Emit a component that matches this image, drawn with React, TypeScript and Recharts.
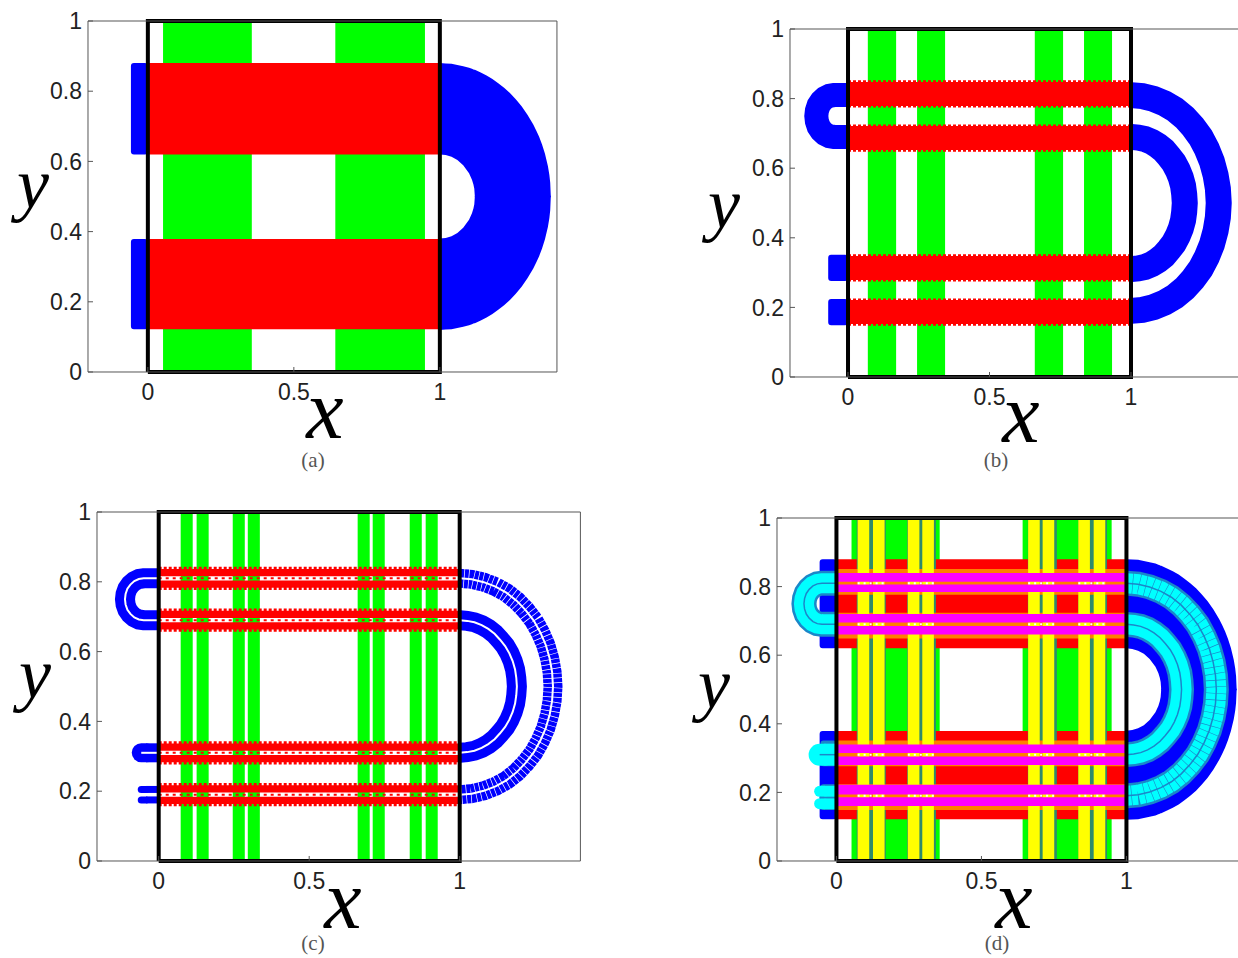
import { Fragment } from 'react'
import { ComposedChart, XAxis, YAxis, ReferenceArea, Line, Area } from 'recharts'

const xTicks = [0, 0.5, 1]
const yTicks = [0, 0.2, 0.4, 0.6, 0.8, 1]

// frame of the unit square
const squareX = [0, 1, 1, 0, 0]
const squareY = [0, 0, 1, 1, 0]
const spanX = [0, 1]

// vertical strips, [from x, to x]
const greenWide = [[0.052, 0.356], [0.642, 0.949]]
const greenMid = [[0.07, 0.17], [0.244, 0.343], [0.66, 0.76], [0.834, 0.933]]
const greenThin = [
  [0.073, 0.113], [0.126, 0.166], [0.246, 0.286], [0.296, 0.336],
  [0.661, 0.701], [0.711, 0.751], [0.834, 0.874], [0.887, 0.927]
]
const yellowPairs = [[0.073, 0.166], [0.246, 0.336], [0.661, 0.751], [0.834, 0.927]]

// horizontal strips, [from y, to y]
const redWide = [[0.122, 0.379], [0.62, 0.88]]
const redMid = [[0.152, 0.221], [0.279, 0.348], [0.652, 0.721], [0.779, 0.848]]
const orangeMid = [[0.149, 0.224], [0.276, 0.351], [0.649, 0.724], [0.776, 0.851]]
const redThin = [
  [0.163, 0.184], [0.196, 0.217], [0.283, 0.304], [0.316, 0.337],
  [0.663, 0.684], [0.696, 0.717], [0.783, 0.804], [0.816, 0.837]
]
const magentaThin = [
  [0.16, 0.186], [0.194, 0.222], [0.28, 0.305], [0.315, 0.34],
  [0.66, 0.685], [0.695, 0.72], [0.784, 0.806], [0.814, 0.84]
]

// saw-tooth rows along the band edges and centres
const edgesMid = [0.151, 0.222, 0.278, 0.349, 0.651, 0.722, 0.778, 0.849]
const edgesThin = [0.161, 0.219, 0.281, 0.339, 0.661, 0.719, 0.781, 0.839]
const centres = [0.19, 0.31, 0.69, 0.81]

// stubs left of the square, [from x, from y, to y]
const stubsA = [[-0.058, 0.122, 0.379], [-0.058, 0.62, 0.88]]
const stubsB = [[-0.07, 0.149, 0.224], [-0.07, 0.276, 0.351]]
const stubsDSteel = [[-0.055, 0.149, 0.224], [-0.055, 0.276, 0.351]]

// thick half ring right of the square (a) and (d)
const ringX = [1, 1.02, 1.04, 1.06, 1.08, 1.1, 1.11, 1.115, 1.118, 1.12, 1.14, 1.16, 1.18, 1.2, 1.22, 1.24, 1.26, 1.28, 1.3, 1.32, 1.33, 1.34, 1.35, 1.36, 1.37, 1.375, 1.378, 1.38]
const ringUpperOut = [0.88, 0.879, 0.878, 0.875, 0.871, 0.867, 0.864, 0.862, 0.861, 0.861, 0.853, 0.845, 0.835, 0.823, 0.81, 0.795, 0.777, 0.757, 0.733, 0.705, 0.688, 0.67, 0.648, 0.622, 0.587, 0.562, 0.539, 0.5]
const ringUpperIn = [0.62, 0.618, 0.613, 0.604, 0.589, 0.566, 0.548, 0.534, 0.522, 0.498, 0.498, 0.498, 0.498, 0.498, 0.498, 0.498, 0.498, 0.498, 0.498, 0.498, 0.498, 0.498, 0.498, 0.498, 0.498, 0.498, 0.498, 0.498]
const ringLowerOut = [0.12, 0.121, 0.122, 0.125, 0.129, 0.133, 0.136, 0.138, 0.139, 0.139, 0.147, 0.155, 0.165, 0.177, 0.19, 0.205, 0.223, 0.243, 0.267, 0.295, 0.312, 0.33, 0.352, 0.378, 0.413, 0.438, 0.461, 0.5]
const ringLowerIn = [0.38, 0.382, 0.387, 0.396, 0.411, 0.434, 0.452, 0.466, 0.478, 0.502, 0.502, 0.502, 0.502, 0.502, 0.502, 0.502, 0.502, 0.502, 0.502, 0.502, 0.502, 0.502, 0.502, 0.502, 0.502, 0.502, 0.502, 0.502]

// centre lines of the thin half rings
const outerArcX = [1, 1.04, 1.08, 1.119, 1.155, 1.189, 1.219, 1.246, 1.268, 1.286, 1.299, 1.307, 1.31, 1.307, 1.299, 1.286, 1.268, 1.246, 1.219, 1.189, 1.155, 1.119, 1.08, 1.04, 1]
const outerArcY = [0.81, 0.807, 0.799, 0.786, 0.769, 0.746, 0.719, 0.689, 0.655, 0.619, 0.58, 0.541, 0.5, 0.459, 0.42, 0.381, 0.345, 0.311, 0.281, 0.254, 0.231, 0.214, 0.201, 0.193, 0.19]
const innerArcX = [1, 1.025, 1.049, 1.073, 1.095, 1.116, 1.134, 1.151, 1.165, 1.176, 1.184, 1.188, 1.19, 1.188, 1.184, 1.176, 1.165, 1.151, 1.134, 1.116, 1.095, 1.073, 1.049, 1.025, 1]
const innerArcY = [0.69, 0.688, 0.684, 0.676, 0.665, 0.651, 0.634, 0.616, 0.595, 0.573, 0.549, 0.525, 0.5, 0.475, 0.451, 0.427, 0.405, 0.384, 0.366, 0.349, 0.335, 0.324, 0.316, 0.312, 0.31]
const leftArcX = [0, -0.05, -0.066, -0.081, -0.094, -0.104, -0.11, -0.112, -0.11, -0.104, -0.094, -0.081, -0.066, -0.05, 0]
const leftArcY = [0.81, 0.81, 0.808, 0.802, 0.792, 0.78, 0.765, 0.75, 0.735, 0.72, 0.708, 0.698, 0.692, 0.69, 0.69]

// rounded nubs left of the square: round end, then a plain run up to the frame
const nubCapX = [-0.058, -0.042]
const nubRunX = [-0.042, 0]
const stubX = [-0.058, 0]
const midStubY = [0.31, 0.31]
const lowStubUpperY = [0.205, 0.205]
const lowStubLowerY = [0.175, 0.175]
const lobeUpperY = [0.203, 0.203]
const lobeLowerY = [0.167, 0.167]
const lobeCentreY = [0.185, 0.185]

const BLUE = '#0000ff'
const RED = '#ff0000'
const GREEN = '#00ff00'
const YELLOW = '#ffff00'
const MAGENTA = '#ff00ff'
const ORANGE = '#ff7f00'
const TEAL = '#2e8b6b'
const CYAN = '#00ffff'
const STEEL = '#1b87c9'

const zip = (xs: number[], ys: number[]) => xs.map((x, i) => ({ x, y: ys[i] }))
const ringTable = (hi: number[], lo: number[]) => ringX.map((x, i) => ({ x, range: [lo[i], hi[i]] }))

const curve = (xs: number[], ys: number[], color: string, width: number, dash?: string, cap?: 'round') => (
  <Line
    data={zip(xs, ys)}
    dataKey="y"
    type="linear"
    stroke={color}
    strokeWidth={width}
    strokeDasharray={dash}
    strokeLinecap={cap}
    dot={false}
    activeDot={false}
    legendType="none"
    isAnimationActive={false}
  />
)

const nub = (ys: number[], color: string, width: number) => (
  <>
    {curve(nubCapX, ys, color, width, undefined, 'round')}
    {curve(nubRunX, ys, color, width)}
  </>
)

const rows = (ys: number[], color: string, width: number, dash: string) =>
  ys.map((y, i) => <Fragment key={i}>{curve(spanX, [y, y], color, width, dash)}</Fragment>)

// white specks where the centre rows cross the yellow strips of panel (d)
const crossings = (ys: number[], pairs: number[][]) =>
  ys.map((y, i) =>
    pairs.map((p, j) => <Fragment key={i + '-' + j}>{curve(p, [y, y], '#fff', 2, '2 4')}</Fragment>)
  )

const vStrips = (strips: number[][], fill: string) =>
  strips.map((s, i) => (
    <ReferenceArea key={fill + i} x1={s[0]} x2={s[1]} y1={0} y2={1} fill={fill} fillOpacity={1} stroke="none" />
  ))

const hStrips = (strips: number[][], fill: string) =>
  strips.map((s, i) => (
    <ReferenceArea key={fill + i} x1={0} x2={1} y1={s[0]} y2={s[1]} fill={fill} fillOpacity={1} stroke="none" />
  ))

const stubs = (list: number[][], fill: string) =>
  list.map((s, i) => (
    <ReferenceArea key={fill + 's' + i} x1={s[0]} x2={0} y1={s[1]} y2={s[2]} fill={fill} fillOpacity={1} stroke="none" radius={3} />
  ))

const ring = (
  <>
    <Area data={ringTable(ringUpperOut, ringUpperIn)} dataKey="range" type="linear" fill={BLUE} fillOpacity={1} stroke="none" dot={false} activeDot={false} isAnimationActive={false} />
    <Area data={ringTable(ringLowerIn, ringLowerOut)} dataKey="range" type="linear" fill={BLUE} fillOpacity={1} stroke="none" dot={false} activeDot={false} isAnimationActive={false} />
  </>
)

interface PanelProps {
  x0: number
  x1: number
  y0: number
  y1: number
  children: React.ReactNode
}

const PAD_LEFT = 70
const PAD_TOP = 22
const PAD_BOTTOM = 45
const PAD_RIGHT = 8
const X_MIN = -0.205
const X_MAX = 1.401

function Panel({ x0, x1, y0, y1, children }: PanelProps) {
  const unit = x1 - x0
  const plotLeft = x0 + X_MIN * unit
  const plotW = (X_MAX - X_MIN) * unit
  const plotH = y0 - y1
  const tickStyle = { fontFamily: 'Liberation Sans', fontSize: 23, fill: '#222' }
  const noLabel = () => <g />
  return (
    <div style={{ position: 'absolute', left: plotLeft - PAD_LEFT, top: y1 - PAD_TOP }}>
      <ComposedChart
        width={PAD_LEFT + plotW + PAD_RIGHT}
        height={PAD_TOP + plotH + PAD_BOTTOM}
        margin={{ top: PAD_TOP - 1, right: PAD_RIGHT - 1, bottom: 0, left: 0 }}
      >
        <XAxis
          dataKey="x"
          type="number"
          domain={[X_MIN, X_MAX]}
          ticks={xTicks}
          height={PAD_BOTTOM}
          interval={0}
          tickSize={-5}
          tickMargin={17}
          stroke="#555"
          tick={tickStyle}
        />
        <XAxis xAxisId="top" orientation="top" dataKey="x" type="number" domain={[X_MIN, X_MAX]} ticks={xTicks} height={1} interval={0} tickSize={-5} stroke="#555" tick={noLabel} />
        <YAxis
          type="number"
          domain={[0, 1]}
          ticks={yTicks}
          width={PAD_LEFT}
          interval={0}
          tickSize={-5}
          tickMargin={11}
          stroke="#555"
          tick={tickStyle}
        />
        <YAxis yAxisId="right" orientation="right" type="number" domain={[0, 1]} ticks={yTicks} width={1} interval={0} tickSize={-5} stroke="#555" tick={noLabel} />
        {children}
        {curve(squareX, squareY, '#000', 4)}
      </ComposedChart>
    </div>
  )
}

function Words({ left, top, size, children, color, italic }: { left: number; top: number; size: number; children: string; color: string; italic?: boolean }) {
  return (
    <div
      style={{
        position: 'absolute',
        left,
        top,
        transform: 'translate(-50%, -50%)',
        fontFamily: 'Liberation Serif',
        fontStyle: italic ? 'italic' : 'normal',
        fontSize: size,
        lineHeight: 1,
        color
      }}
    >
      {children}
    </div>
  )
}

export default function App() {
  return (
    <div style={{ position: 'absolute', left: 0, top: 0, width: 1238, height: 958, overflow: 'hidden', background: '#fff' }}>
      <Panel x0={148} x1={440} y0={372} y1={21}>
        {vStrips(greenWide, GREEN)}
        {stubs(stubsA, BLUE)}
        {ring}
        {hStrips(redWide, RED)}
      </Panel>

      <Panel x0={848} x1={1131} y0={377} y1={29}>
        {vStrips(greenMid, GREEN)}
        {stubs(stubsB, BLUE)}
        {hStrips(redMid, RED)}
        {rows(edgesMid, RED, 2.5, '3 2')}
        {curve(outerArcX, outerArcY, BLUE, 26)}
        {curve(innerArcX, innerArcY, BLUE, 26)}
        {curve(leftArcX, leftArcY, BLUE, 24)}
      </Panel>

      <Panel x0={159} x1={460} y0={861} y1={512}>
        {vStrips(greenThin, GREEN)}
        {hStrips(redThin, RED)}
        {rows(edgesThin, RED, 3, '3 2')}
        {rows(centres, RED, 2, '3 4')}
        {curve(outerArcX, outerArcY, BLUE, 19, '4 0.7')}
        {curve(innerArcX, innerArcY, BLUE, 20)}
        {curve(leftArcX, leftArcY, BLUE, 20)}
        {nub(midStubY, BLUE, 19)}
        {nub(lowStubUpperY, BLUE, 7)}
        {nub(lowStubLowerY, BLUE, 7)}
        {curve(outerArcX, outerArcY, '#fff', 2)}
        {curve(innerArcX, innerArcY, '#fff', 2)}
        {curve(leftArcX, leftArcY, '#fff', 2)}
        {curve(stubX, midStubY, '#fff', 2)}
      </Panel>

      <Panel x0={836} x1={1126} y0={861} y1={518}>
        {vStrips(greenWide, GREEN)}
        {stubs(stubsA, BLUE)}
        {ring}
        {hStrips(redWide, RED)}
        {vStrips(greenMid, TEAL)}
        {hStrips(orangeMid, ORANGE)}
        {vStrips(greenThin, YELLOW)}
        {hStrips(magentaThin, MAGENTA)}
        {crossings(centres, yellowPairs)}
        {stubs(stubsDSteel, STEEL)}
        {curve(outerArcX, outerArcY, STEEL, 25)}
        {curve(innerArcX, innerArcY, STEEL, 25)}
        {curve(leftArcX, leftArcY, STEEL, 25)}
        {curve(outerArcX, outerArcY, CYAN, 20, '6 0.6')}
        {curve(innerArcX, innerArcY, CYAN, 20)}
        {curve(leftArcX, leftArcY, CYAN, 20)}
        {nub(midStubY, CYAN, 22)}
        {nub(lobeUpperY, CYAN, 11)}
        {nub(lobeLowerY, CYAN, 11)}
        {curve(outerArcX, outerArcY, STEEL, 1.5)}
        {curve(innerArcX, innerArcY, STEEL, 1.5)}
        {curve(leftArcX, leftArcY, STEEL, 1.5)}
        {curve(stubX, midStubY, STEEL, 1.5)}
        {curve(stubX, lobeCentreY, STEEL, 1.5)}
      </Panel>

      <Words left={33} top={184} size={72} color="#000" italic>y</Words>
      <Words left={724} top={204} size={72} color="#000" italic>y</Words>
      <Words left={35} top={674} size={72} color="#000" italic>y</Words>
      <Words left={714} top={684} size={72} color="#000" italic>y</Words>
      <Words left={325} top={410} size={84} color="#000" italic>x</Words>
      <Words left={1021} top={414} size={84} color="#000" italic>x</Words>
      <Words left={343} top={900} size={84} color="#000" italic>x</Words>
      <Words left={1014} top={900} size={84} color="#000" italic>x</Words>
      <Words left={313} top={460} size={21} color="#555">(a)</Words>
      <Words left={996} top={460} size={21} color="#555">(b)</Words>
      <Words left={313} top={943} size={21} color="#555">(c)</Words>
      <Words left={997} top={943} size={21} color="#555">(d)</Words>
    </div>
  )
}
